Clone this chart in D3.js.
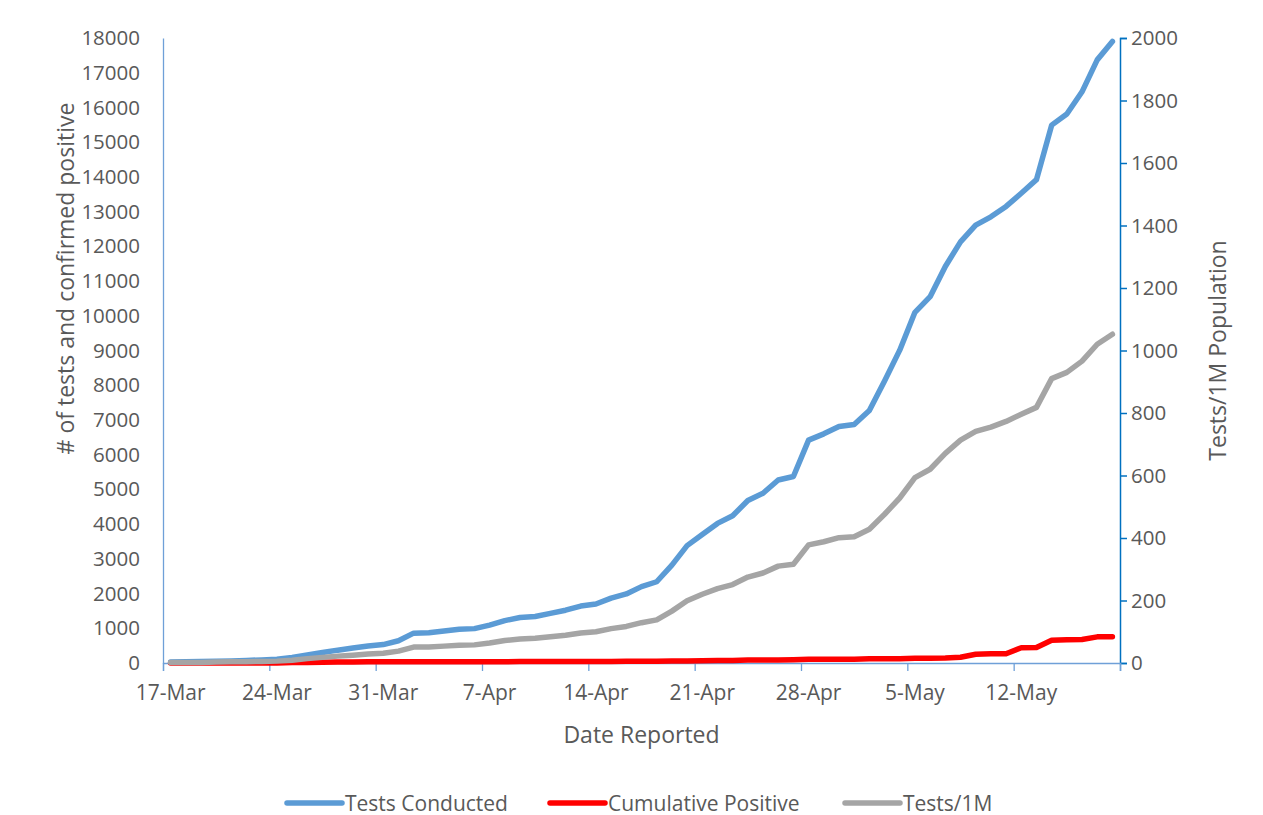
<!DOCTYPE html>
<html>
<head>
<meta charset="utf-8">
<script src="https://cdn.jsdelivr.net/npm/d3@7"></script>
<style>
  html, body { margin: 0; padding: 0; background: #fff; }
  svg { display: block; font-family: "Open Sans", sans-serif; }
</style>
</head>
<body>
<svg id="chart" width="1263" height="815"></svg>
<script>
// ---- data ----
const startDate = new Date(2020, 2, 17);
const endDate = new Date(2020, 4, 19);
const dates = d3.timeDay.range(startDate, endDate); // 17-Mar .. 18-May

const testsConducted = [
  30, 35, 40, 50, 60, 75, 90, 110, 160, 230,
  300, 370, 430, 490, 530, 640, 860, 870, 920, 970,
  990, 1090, 1220, 1310, 1340, 1430, 1520, 1640, 1700, 1870,
  1990, 2200, 2340, 2820, 3380, 3700, 4020, 4240, 4680, 4890,
  5270, 5370, 6420, 6600, 6810, 6870, 7270, 8120, 9010, 10100,
  10550, 11420, 12130, 12610, 12850, 13150, 13530, 13920, 15490, 15810,
  16450, 17370, 17900
];
const cumulativePositive = [
  0, 2, 2, 2, 2, 3, 3, 3, 12, 16,
  22, 28, 29, 35, 35, 36, 36, 39, 39, 39,
  39, 39, 39, 40, 40, 43, 43, 45, 45, 45,
  48, 48, 52, 57, 61, 65, 70, 74, 84, 88,
  89, 95, 106, 106, 106, 109, 119, 119, 124, 137,
  138, 146, 167, 252, 267, 267, 441, 446, 654, 668,
  679, 753, 753
];
const testsPer1M = [
  2, 2, 2, 3, 4, 4, 5, 6, 9, 14,
  18, 22, 25, 29, 31, 38, 51, 51, 54, 57,
  58, 64, 72, 77, 79, 84, 89, 96, 100, 110,
  117, 129, 138, 166, 199, 220, 238, 251, 275, 288,
  310, 316, 378, 388, 401, 404, 428, 476, 528, 593,
  620, 671, 713, 741, 755, 773, 796, 818, 910, 930,
  966, 1020, 1052
];
const leftTicks = d3.range(0, 18001, 1000);
const rightTicks = d3.range(0, 2001, 200);
const seriesNames = ["Tests Conducted", "Cumulative Positive", "Tests/1M"];
const seriesColors = ["#5B9BD5", "#FF0000", "#A5A5A5"];

// ---- layout ----
const svg = d3.select("#chart");
const pLeft = 163, pRight = 1120, pTop = 38, pBottom = 663;
const fmt = d3.timeFormat("%-d-%b");

const x = d3.scaleBand().domain(dates.map(d => +d)).range([pLeft, pRight]).padding(0);
const xc = d => x(+d) + x.bandwidth() / 2;
const yL = d3.scaleLinear().domain([0, 18000]).range([pBottom, pTop]);
const yR = d3.scaleLinear().domain([0, 2000]).range([pBottom, pTop]);

const textColor = "#595959";
const axisLight = "#6FA0D8";
const axisDark = "#0070C0";
const tickFont = "20.5px";
const titleFont = "23px";

// left axis
const gL = svg.append("g").attr("transform", `translate(${pLeft},0)`)
  .call(d3.axisLeft(yL).tickValues(leftTicks).tickSize(0).tickPadding(23).tickFormat(d3.format("d")));
gL.select(".domain").attr("stroke", axisLight).attr("stroke-width", 1.3);
gL.selectAll("text").attr("fill", textColor).style("font-size", tickFont).style("font-family", "Open Sans");

// right axis
const gR = svg.append("g").attr("transform", `translate(${pRight},0)`)
  .call(d3.axisRight(yR).tickValues(rightTicks).tickSizeInner(7).tickSizeOuter(7).tickPadding(4).tickFormat(d3.format("d")));
gR.select(".domain").attr("stroke", axisDark).attr("stroke-width", 1.5);
gR.selectAll("line").attr("stroke", axisDark).attr("stroke-width", 1.5);
gR.selectAll("text").attr("fill", textColor).style("font-size", tickFont).style("font-family", "Open Sans");

// bottom axis: tick marks at category boundaries every 7 days
const boundaryIdx = d3.range(0, dates.length + 1, 7);
const xb = d3.scaleLinear().domain([0, dates.length]).range([pLeft, pRight]);
const gB = svg.append("g").attr("transform", `translate(0,${pBottom})`)
  .call(d3.axisBottom(xb).tickValues(boundaryIdx.concat([dates.length])).tickSize(8).tickFormat(""));
gB.select(".domain").attr("stroke", axisLight).attr("stroke-width", 1.3);
gB.selectAll("line").attr("stroke", axisLight).attr("stroke-width", 1.3);

// bottom labels at category centers
const labelDates = dates.filter((d, i) => i % 7 === 0);
const gBL = svg.append("g").attr("transform", `translate(0,${pBottom})`)
  .call(d3.axisBottom(x).tickValues(labelDates.map(d => +d)).tickSize(0).tickPadding(22)
    .tickFormat(v => fmt(new Date(v))));
gBL.select(".domain").remove();
gBL.selectAll("text").attr("fill", textColor).style("font-size", "21px").style("font-family", "Open Sans");

// lines
const allSeries = [
  { vals: testsConducted, y: yL, color: seriesColors[0] },
  { vals: cumulativePositive, y: yL, color: seriesColors[1] },
  { vals: testsPer1M, y: yR, color: seriesColors[2] }
];
allSeries.forEach(s => {
  const line = d3.line().x((v, i) => xc(dates[i])).y(v => s.y(v));
  svg.append("path").datum(s.vals)
    .attr("d", line)
    .attr("fill", "none")
    .attr("stroke", s.color)
    .attr("stroke-width", 5.5)
    .attr("stroke-linejoin", "round")
    .attr("stroke-linecap", "round");
});

// axis titles
svg.append("text")
  .attr("transform", `translate(74,${(pTop + pBottom) / 2 - 72}) rotate(-90)`)
  .attr("text-anchor", "middle")
  .attr("fill", textColor).style("font-size", titleFont)
  .text("# of tests and confirmed positive");

svg.append("text")
  .attr("transform", `translate(1226,${(pTop + pBottom) / 2}) rotate(-90)`)
  .attr("text-anchor", "middle")
  .attr("fill", textColor).style("font-size", titleFont)
  .text("Tests/1M Population");

svg.append("text")
  .attr("x", (pLeft + pRight) / 2)
  .attr("y", 743)
  .attr("text-anchor", "middle")
  .attr("fill", textColor).style("font-size", titleFont)
  .text("Date Reported");

// legend
const legendX = [285, 548, 843];
const leg = svg.append("g");
seriesNames.forEach((name, i) => {
  const g = leg.append("g").attr("transform", `translate(${legendX[i]},803)`);
  g.append("line").attr("x1", 2).attr("x2", 57).attr("y1", 0).attr("y2", 0)
    .attr("stroke", seriesColors[i]).attr("stroke-width", 5.5).attr("stroke-linecap", "round");
  g.append("text").attr("x", 60).attr("y", 7.5)
    .attr("fill", textColor).style("font-size", "21px")
    .text(name);
});
</script>
</body>
</html>
